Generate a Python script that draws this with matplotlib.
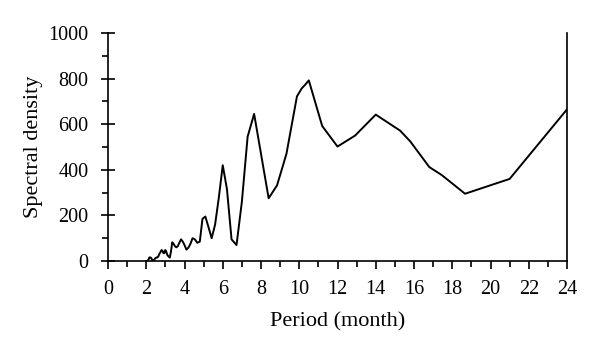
import matplotlib
matplotlib.use('Agg')
import matplotlib.pyplot as plt
from matplotlib.ticker import MultipleLocator

# periodogram values (period in months, spectral density)
period = [24.0, 21.0, 18.67, 17.45, 16.8, 15.8, 15.27, 14.0, 12.92, 12.0, 11.2, 10.5,
          10.3, 10.13, 9.88, 9.33, 8.84, 8.4, 8.0, 7.64, 7.3, 7.0, 6.72, 6.46,
          6.22, 6.0, 5.79, 5.6, 5.42, 5.25, 5.09, 4.94, 4.8, 4.67,
          4.54, 4.42, 4.31, 4.2, 4.1, 4.0, 3.91, 3.82, 3.73, 3.65,
          3.57, 3.5, 3.43, 3.36, 3.29, 3.23, 3.17, 3.11, 3.05, 3.0,
          2.95, 2.9, 2.85, 2.8, 2.75, 2.71, 2.67, 2.63, 2.58, 2.55,
          2.51, 2.47, 2.44, 2.4, 2.37, 2.33, 2.3, 2.27, 2.24, 2.21,
          2.18, 2.15, 2.13, 2.1, 2.07, 2.05, 2.02, 2.0]
density = [665, 360, 295, 377, 412, 525, 572, 642, 550, 502, 592, 792,
           772, 757, 722, 470, 332, 275, 470, 645, 545, 260, 70, 95,
           315, 420, 275, 160, 100, 150, 195, 185, 85, 80,
           95, 100, 75, 58, 50, 70, 85, 95, 80, 65,
           60, 65, 75, 82, 40, 15, 20, 25, 40, 48,
           35, 34, 45, 48, 40, 35, 28, 20, 15, 16,
           14, 12, 8, 5, 2, 0, 6, 12, 14, 16,
           16, 14, 8, 4, 2, 0, 0, 0]

plt.rcParams['font.family'] = ['Liberation Serif', 'DejaVu Serif']
plt.rcParams['font.size'] = 14.5

fig = plt.figure(figsize=(6.0, 3.53), dpi=100)
ax = fig.add_axes([0.18, 0.2606, 0.765, 0.646])

ax.plot(period, density, color='black', lw=1.4)

ax.set_xlim(0, 24)
ax.set_ylim(0, 1000)
ax.xaxis.set_major_locator(MultipleLocator(2))
ax.xaxis.set_minor_locator(MultipleLocator(1))
ax.yaxis.set_major_locator(MultipleLocator(200))
ax.yaxis.set_minor_locator(MultipleLocator(100))

ax.spines['top'].set_visible(False)
for s in ['left', 'right', 'bottom']:
    ax.spines[s].set_linewidth(1.2)

ax.tick_params(axis='x', which='major', direction='out', length=6, width=1.2, pad=8)
ax.tick_params(axis='x', which='minor', direction='out', length=4, width=1.2)
ax.tick_params(axis='y', which='major', direction='inout', length=10, width=1.2, pad=9)
ax.tick_params(axis='y', which='minor', direction='out', length=4, width=1.2)

ax.set_xlabel('Period (month)', fontsize=16, labelpad=9)
ax.set_ylabel('Spectral density', fontsize=16, labelpad=4)

fig.savefig('out.png', dpi=100)
